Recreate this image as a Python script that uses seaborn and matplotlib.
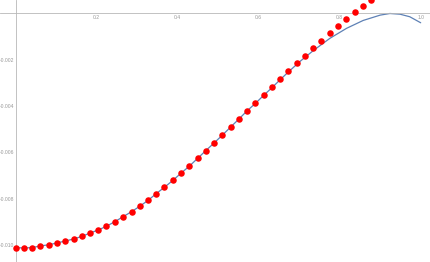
import numpy as np
import pandas as pd
import seaborn as sns
import matplotlib.pyplot as plt
from matplotlib.ticker import MultipleLocator, FuncFormatter

# sample points (red dots), x step 1/49
dot_x = [0.000, 0.020, 0.041, 0.061, 0.082, 0.102, 0.122, 0.143, 0.163, 0.184,
         0.204, 0.224, 0.245, 0.265, 0.286, 0.306, 0.327, 0.347, 0.367, 0.388,
         0.408, 0.429, 0.449, 0.469, 0.490, 0.510, 0.531, 0.551, 0.571, 0.592,
         0.612, 0.633, 0.653, 0.673, 0.694, 0.714, 0.735, 0.755, 0.776, 0.796,
         0.816, 0.837, 0.857, 0.878]
dot_y = [-0.01011, -0.01013, -0.01011, -0.01004, -0.00999, -0.00991, -0.00983,
         -0.00974, -0.00963, -0.00948, -0.00935, -0.00919, -0.00899, -0.00878,
         -0.00856, -0.00833, -0.00807, -0.00778, -0.00751, -0.00721, -0.00690,
         -0.00659, -0.00626, -0.00593, -0.00559, -0.00526, -0.00490, -0.00456,
         -0.00420, -0.00387, -0.00352, -0.00318, -0.00283, -0.00248, -0.00214,
         -0.00182, -0.00150, -0.00117, -0.00086, -0.00054, -0.00025, 0.00005,
         0.00034, 0.00058]

# exact curve (blue line)
curve_x = [0.000, 0.020, 0.041, 0.061, 0.082, 0.102, 0.122, 0.143, 0.163, 0.184,
           0.204, 0.224, 0.245, 0.265, 0.286, 0.306, 0.327, 0.347, 0.367, 0.388,
           0.408, 0.429, 0.449, 0.469, 0.490, 0.510, 0.531, 0.551, 0.571, 0.592,
           0.612, 0.633, 0.653, 0.673, 0.702, 0.735, 0.776, 0.817, 0.858, 0.900,
           0.924, 0.949, 0.973, 1.000]
curve_y = [-0.01011, -0.01013, -0.01011, -0.01004, -0.00999, -0.00991, -0.00983,
           -0.00974, -0.00963, -0.00948, -0.00935, -0.00919, -0.00899, -0.00878,
           -0.00856, -0.00833, -0.00807, -0.00778, -0.00751, -0.00721, -0.00690,
           -0.00659, -0.00626, -0.00593, -0.00559, -0.00526, -0.00490, -0.00456,
           -0.00421, -0.00388, -0.00354, -0.00320, -0.00286, -0.00253, -0.00207,
           -0.00160, -0.00107, -0.00064, -0.00030, -0.00007, 0.00000, -0.00003,
           -0.00014, -0.00040]

sns.set_style('white')
plt.rcParams['font.family'] = ['Liberation Sans', 'DejaVu Sans']

fig = plt.figure(figsize=(4.3, 2.62), dpi=100)
ax = fig.add_axes([0, 0, 1, 1])

curve = pd.DataFrame({'x': curve_x, 'y': curve_y})
dots = pd.DataFrame({'x': dot_x, 'y': dot_y})
sns.lineplot(data=curve, x='x', y='y', color='#5E81B5', linewidth=0.9, ax=ax, zorder=2)
sns.scatterplot(data=dots, x='x', y='y', color='#ff0000', s=22, linewidth=0, ax=ax, zorder=3)

ax.set_xlim(-0.0388, 1.023)
ax.set_ylim(-0.010734, 0.000583)

axis_col = '#b8b8b8'
for side in ['top', 'right']:
    ax.spines[side].set_visible(False)
ax.spines['left'].set_position(('data', 0))
ax.spines['bottom'].set_position(('data', 0))
ax.spines['left'].set_color(axis_col)
ax.spines['bottom'].set_color(axis_col)
ax.spines['left'].set_linewidth(0.6)
ax.spines['bottom'].set_linewidth(0.6)

ax.xaxis.set_major_locator(MultipleLocator(0.2))
ax.xaxis.set_minor_locator(MultipleLocator(0.05))
ax.yaxis.set_major_locator(MultipleLocator(0.002))
ax.yaxis.set_minor_locator(MultipleLocator(0.0005))

ax.xaxis.set_major_formatter(FuncFormatter(lambda v, p: '' if abs(v) < 1e-9 else f'{v:.1f}'))
ax.yaxis.set_major_formatter(FuncFormatter(lambda v, p: '' if abs(v) < 1e-9 else f'-{abs(v):.3f}'))

ax.tick_params(axis='both', which='major', direction='in', length=3, width=0.5,
               color=axis_col, labelsize=3.6, labelcolor='#999999', pad=1.2)
ax.tick_params(axis='both', which='minor', direction='in', length=1.8, width=0.4,
               color=axis_col)
ax.set_xlabel('')
ax.set_ylabel('')
ax.grid(False)

fig.savefig('out.png', dpi=100)
